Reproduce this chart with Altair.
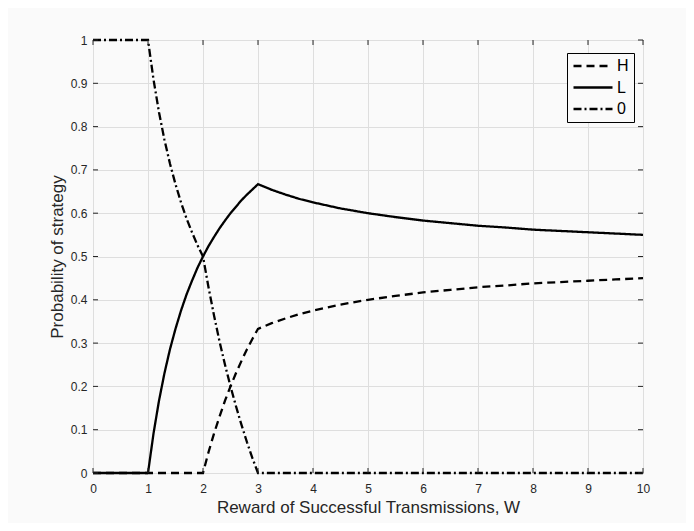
import altair as alt
import pandas as pd

# Reward of successful transmissions, W
W = [0, 0.5,
     1.0, 1.1, 1.2, 1.3, 1.4, 1.5, 1.6, 1.7, 1.8, 1.9,
     2.0, 2.1, 2.2, 2.3, 2.4, 2.5, 2.6, 2.7, 2.8, 2.9,
     3.0, 3.25, 3.5, 3.75, 4.0, 4.5, 5.0, 5.5, 6.0, 6.5,
     7.0, 7.5, 8.0, 8.5, 9.0, 9.5, 10.0]

H_VALS = [0, 0,
          0, 0, 0, 0, 0, 0, 0, 0, 0, 0,
          0, 0.048, 0.091, 0.130, 0.167, 0.200, 0.231, 0.259, 0.286, 0.310,
          0.333, 0.346, 0.357, 0.367, 0.375, 0.389, 0.400, 0.409, 0.417, 0.423,
          0.429, 0.433, 0.438, 0.441, 0.444, 0.447, 0.450]

L_VALS = [0, 0,
          0, 0.091, 0.167, 0.231, 0.286, 0.333, 0.375, 0.412, 0.444, 0.474,
          0.500, 0.524, 0.545, 0.565, 0.583, 0.600, 0.615, 0.630, 0.643, 0.655,
          0.667, 0.654, 0.643, 0.633, 0.625, 0.611, 0.600, 0.591, 0.583, 0.577,
          0.571, 0.567, 0.562, 0.559, 0.556, 0.553, 0.550]

O_VALS = [1, 1,
          1.000, 0.909, 0.833, 0.769, 0.714, 0.667, 0.625, 0.588, 0.556, 0.526,
          0.500, 0.429, 0.364, 0.304, 0.250, 0.200, 0.154, 0.111, 0.071, 0.034,
          0, 0, 0, 0, 0, 0, 0, 0, 0, 0,
          0, 0, 0, 0, 0, 0, 0]

SERIES = ["H", "L", "0"]
X_TICKS = [0, 1, 2, 3, 4, 5, 6, 7, 8, 9, 10]
Y_TICKS = [0, 0.1, 0.2, 0.3, 0.4, 0.5, 0.6, 0.7, 0.8, 0.9, 1]

rows = []
for name, vals in zip(SERIES, [H_VALS, L_VALS, O_VALS]):
    for w, p in zip(W, vals):
        rows.append({"W": w, "P": p, "S": name})
df = pd.DataFrame(rows)

FONT = "Liberation Sans"
AX = "#262626"
PW, PH = 550, 433

xscale = alt.Scale(domain=[0, 10], nice=False, zero=False)
yscale = alt.Scale(domain=[0, 1], nice=False)
xaxis = alt.Axis(title="Reward of Successful Transmissions, W",
                 values=X_TICKS, format="~r", ticks=False, labelFlush=False,
                 labelPadding=10, titlePadding=5)
yaxis = alt.Axis(title="Probability of strategy",
                 values=Y_TICKS, format="~r", ticks=False, labelFlush=False,
                 labelPadding=6, titlePadding=4)

lines = alt.Chart(df).mark_line(color="black", strokeWidth=2.3).encode(
    x=alt.X("W:Q", scale=xscale, axis=xaxis),
    y=alt.Y("P:Q", scale=yscale, axis=yaxis),
    strokeDash=alt.StrokeDash(
        "S:N",
        scale=alt.Scale(domain=SERIES, range=[[8, 5], [1, 0], [8, 3, 2, 3]]),
        sort=SERIES,
        legend=alt.Legend(title=None, orient="none", legendX=474, legendY=13,
                          direction="vertical", symbolType="stroke",
                          symbolSize=1521, symbolStrokeWidth=2.3,
                          symbolStrokeColor="black", labelFont=FONT,
                          labelFontSize=16, labelColor="black",
                          strokeColor="black", fillColor="#fafafa",
                          padding=5, rowPadding=5.5, labelOffset=3,
                          clipHeight=16),
    ),
    order=alt.Order("S:N"),
)

xt = pd.DataFrame({"W": X_TICKS})
yt = pd.DataFrame({"P": Y_TICKS})

tick_bottom = alt.Chart(xt).mark_rule(color=AX, strokeWidth=1).encode(
    x=alt.X("W:Q", scale=xscale, axis=xaxis),
    y=alt.value(PH), y2=alt.value(PH - 5))
tick_top = alt.Chart(xt).mark_rule(color=AX, strokeWidth=1).encode(
    x=alt.X("W:Q", scale=xscale, axis=xaxis),
    y=alt.value(0), y2=alt.value(5))
tick_left = alt.Chart(yt).mark_rule(color=AX, strokeWidth=1).encode(
    y=alt.Y("P:Q", scale=yscale, axis=yaxis),
    x=alt.value(0), x2=alt.value(5))
tick_right = alt.Chart(yt).mark_rule(color=AX, strokeWidth=1).encode(
    y=alt.Y("P:Q", scale=yscale, axis=yaxis),
    x=alt.value(PW), x2=alt.value(PW - 5))

chart = alt.layer(lines, tick_bottom, tick_top, tick_left, tick_right).properties(
    width=PW, height=PH,
    autosize=alt.AutoSizeParams(type="none"),
    padding={"left": 85, "top": 32, "right": 43, "bottom": 50},
    background="#fafafa",
).configure_view(
    stroke=AX, strokeWidth=1, fill="#fafafa"
).configure_axis(
    grid=True, gridColor="#dedede", gridWidth=1, domain=False,
    labelFont=FONT, labelFontSize=12, labelColor=AX,
    titleFont=FONT, titleFontSize=17, titleColor=AX, titleFontWeight="normal",
)

chart.save("out.html", embed_options={"renderer": "svg", "actions": False})
